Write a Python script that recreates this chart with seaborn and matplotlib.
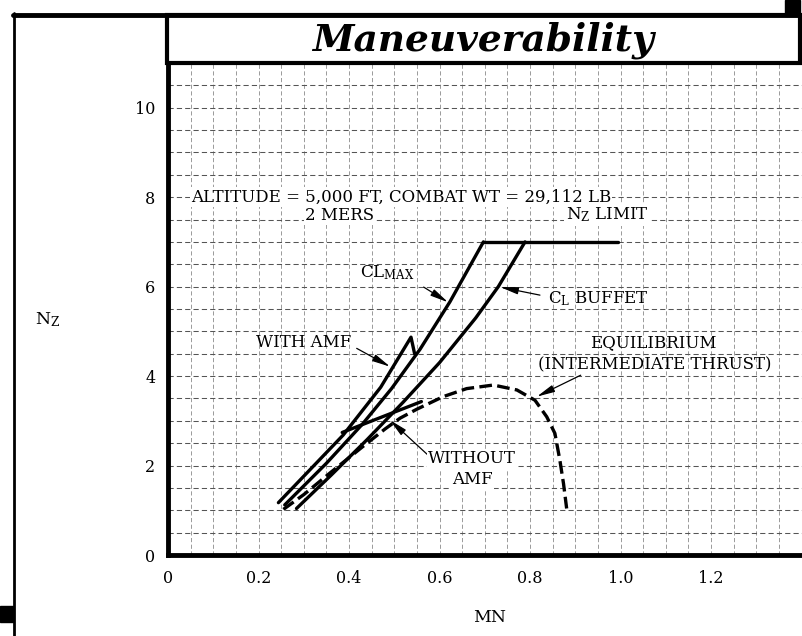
import matplotlib.pyplot as plt
from matplotlib.lines import Line2D
from matplotlib.patches import Rectangle
from matplotlib.ticker import MultipleLocator
import seaborn as sns

# axis ticks
mn_ticks = [0, 0.2, 0.4, 0.6, 0.8, 1.0, 1.2]
mn_labels = ['0', '0.2', '0.4', '0.6', '0.8', '1.0', '1.2']
nz_ticks = [0, 2, 4, 6, 8, 10]

# curves (MN, NZ)
clmax_mn = [0.258, 0.35, 0.43, 0.494, 0.557, 0.623, 0.697]
clmax_nz = [1.12, 2.05, 2.93, 3.72, 4.60, 5.66, 7.00]

limit_mn = [0.697, 0.995]
limit_nz = [7.0, 7.0]

buffet_mn = [0.284, 0.36, 0.44, 0.52, 0.60, 0.68, 0.73, 0.789]
buffet_nz = [1.04, 1.78, 2.58, 3.42, 4.30, 5.30, 6.00, 7.00]

amf_mn = [0.244, 0.387, 0.47, 0.537, 0.545]
amf_nz = [1.17, 2.68, 3.75, 4.87, 4.50]

noamf_mn = [0.385, 0.56]
noamf_nz = [2.74, 3.43]

equil_mn = [0.255, 0.30, 0.36, 0.43, 0.48, 0.513, 0.55, 0.608, 0.66, 0.719,
            0.771, 0.811, 0.837, 0.855, 0.866, 0.874, 0.881]
equil_nz = [1.02, 1.35, 1.85, 2.42, 2.82, 3.06, 3.26, 3.54, 3.72, 3.80,
            3.69, 3.46, 3.09, 2.72, 2.12, 1.60, 1.04]

W, H = 802, 636


def fx(px):
    return px / W


def fy(py):
    return 1 - py / H


sns.set_theme(style='white')
plt.rcParams['font.family'] = ['DejaVu Serif']
plt.rcParams['mathtext.fontset'] = 'dejavuserif'
plt.rcParams['text.color'] = 'black'

fig = plt.figure(figsize=(W / 100, H / 100), dpi=100)
ax = fig.add_axes([fx(168), fy(555), (W - 168) / W, (555 - 63) / H])

for xs, ys in [(clmax_mn, clmax_nz), (limit_mn, limit_nz), (buffet_mn, buffet_nz),
               (amf_mn, amf_nz), (noamf_mn, noamf_nz)]:
    sns.lineplot(x=xs, y=ys, ax=ax, color='black', lw=2.4, sort=False, estimator=None)
sns.lineplot(x=equil_mn, y=equil_nz, ax=ax, color='black', lw=2.4, sort=False,
             estimator=None, linestyle=(0, (3.8, 1.6)))

ax.set_xlim(0, (W - 168) / 452.5)
ax.set_ylim(0, 11)
ax.set_xticks(mn_ticks)
ax.set_xticklabels(mn_labels)
ax.set_yticks(nz_ticks)
ax.xaxis.set_minor_locator(MultipleLocator(0.05))
ax.yaxis.set_minor_locator(MultipleLocator(0.5))
ax.yaxis.grid(True, which='both', ls=(0, (5, 3)), lw=0.75, color='#555555')
ax.xaxis.grid(True, which='both', ls=(0, (5, 3)), lw=0.6, color='#8a8a8a')
ax.set_axisbelow(True)
ax.tick_params(which='both', length=0, labelsize=11.5, colors='black')
ax.tick_params(axis='x', pad=11)
ax.tick_params(axis='y', pad=9)
for s in ['top', 'right']:
    ax.spines[s].set_visible(False)
for s in ['left', 'bottom']:
    ax.spines[s].set_linewidth(3.5)
    ax.spines[s].set_color('black')
ax.set_xlabel('')
ax.set_ylabel('')

arrow = dict(arrowstyle='-|>,head_length=0.9,head_width=0.18', color='black',
             lw=0.9, shrinkA=0, shrinkB=0)
ax.annotate('', xy=(0.619, 5.65), xytext=(0.565, 5.99), arrowprops=arrow)
ax.annotate('', xy=(0.734, 5.99), xytext=(0.822, 5.81), arrowprops=arrow)
ax.annotate('', xy=(0.491, 4.21), xytext=(0.417, 4.62), arrowprops=arrow)
ax.annotate('', xy=(0.49, 3.02), xytext=(0.575, 2.23), arrowprops=arrow)
ax.annotate('', xy=(0.815, 3.54), xytext=(0.912, 4.02), arrowprops=arrow)

fs = 12
box = dict(facecolor='white', edgecolor='none', pad=1)
ax.text(0.515, 8.0, 'ALTITUDE = 5,000 FT, COMBAT WT = 29,112 LB', fontsize=fs,
        ha='center', va='center', bbox=box)
ax.text(0.38, 7.6, '2 MERS', fontsize=fs, ha='center', va='center', bbox=box)
ax.text(0.97, 7.6, r'N$_\mathrm{Z}$ LIMIT', fontsize=fs, ha='center', va='center', bbox=box)
ax.text(0.424, 6.32, r'CL$_\mathrm{MAX}$', fontsize=fs, ha='left', va='center')
ax.text(0.84, 5.74, r'C$_\mathrm{L}$ BUFFET', fontsize=fs, ha='left', va='center')
ax.text(0.30, 4.74, 'WITH AMF', fontsize=fs, ha='center', va='center')
ax.text(1.072, 4.74, 'EQUILIBRIUM', fontsize=fs, ha='center', va='center')
ax.text(1.076, 4.25, '(INTERMEDIATE THRUST)', fontsize=fs, ha='center', va='center')
ax.text(0.672, 2.15, 'WITHOUT', fontsize=fs, ha='center', va='center', bbox=box)
ax.text(0.672, 1.68, 'AMF', fontsize=fs, ha='center', va='center', bbox=box)

# axis titles
fig.text(fx(48), fy(320), r'N$_\mathrm{Z}$', fontsize=12.5, ha='center', va='center')
fig.text(fx(490), fy(617), 'MN', fontsize=12.5, ha='center', va='center')

# page frame and title band
fig.add_artist(Line2D([fx(14), fx(14)], [fy(13), fy(636)], transform=fig.transFigure,
                      color='black', lw=2))
fig.add_artist(Line2D([fx(13), fx(800)], [fy(15), fy(15)], transform=fig.transFigure,
                      color='black', lw=3.5))
fig.add_artist(Rectangle((fx(167), fy(63)), fx(800) - fx(167), fy(15) - fy(63),
                         transform=fig.transFigure, fill=False, edgecolor='black', lw=3))
fig.add_artist(Rectangle((fx(785), fy(16)), fx(15), fy(0) - fy(16),
                         transform=fig.transFigure, color='black'))
fig.add_artist(Rectangle((0, fy(622)), fx(13), fy(606) - fy(622),
                         transform=fig.transFigure, color='black'))
fig.text(fx(483), fy(40), 'Maneuverability', fontsize=27, fontweight='bold',
         fontstyle='italic', ha='center', va='center', color='black')

fig.savefig('out.png', dpi=100, facecolor='white')
